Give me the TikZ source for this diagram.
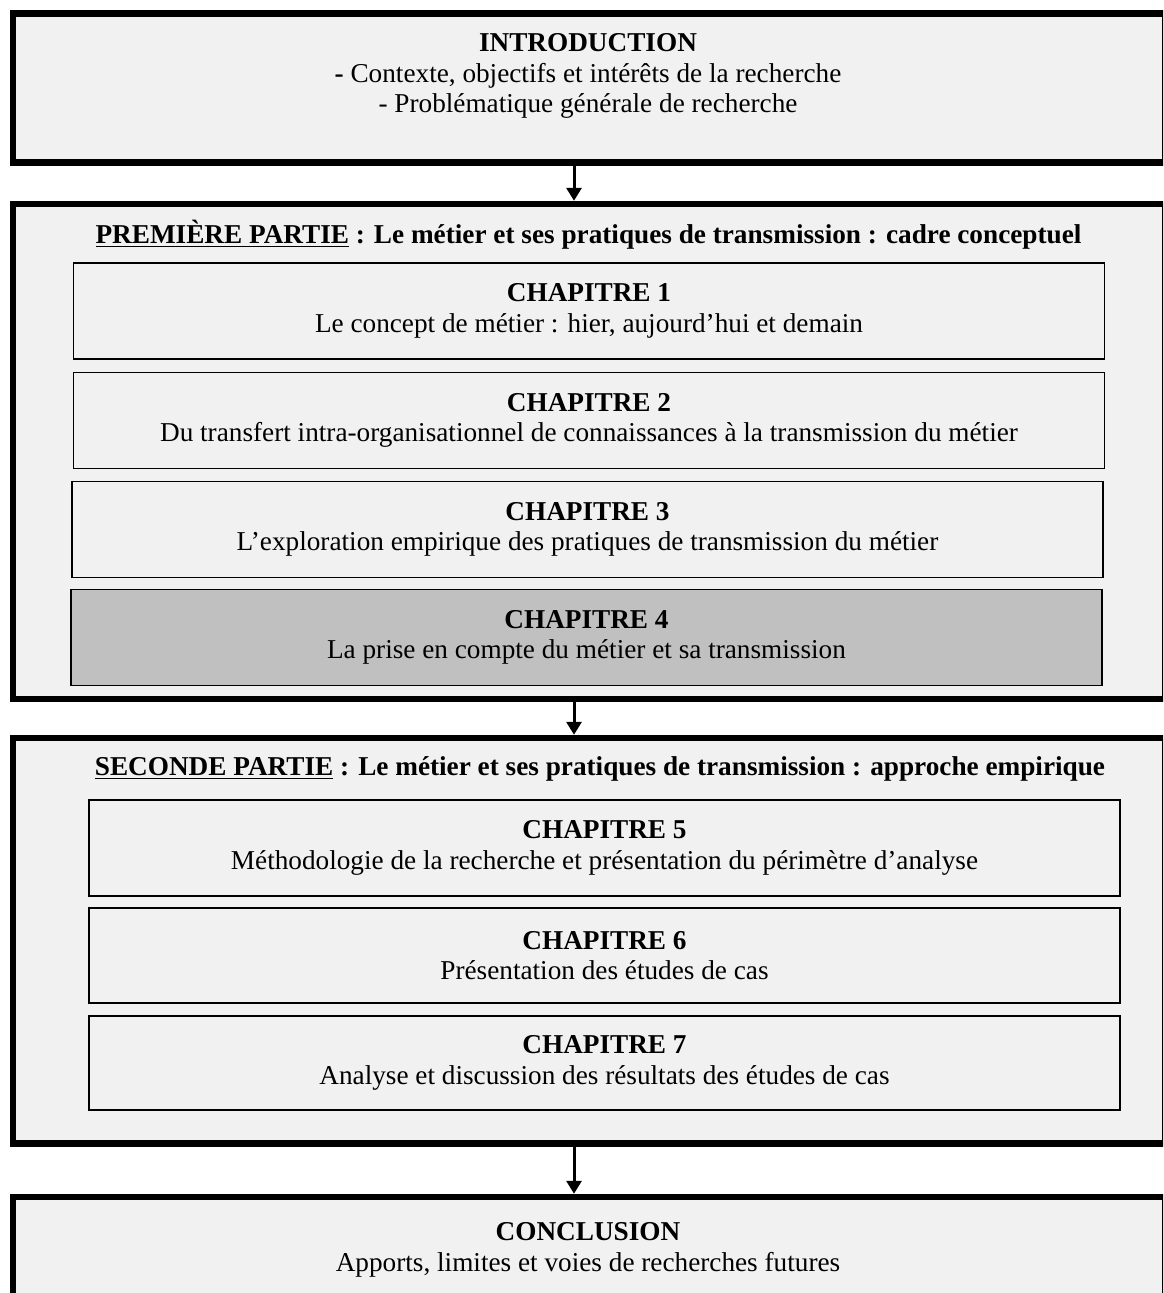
\documentclass[tikz,border=0pt]{standalone}
\usepackage{fontspec}
\setmainfont{Liberation Serif}
\usetikzlibrary{arrows.meta}
\definecolor{fondclair}{RGB}{241,241,241}
\definecolor{fondfonce}{RGB}{192,192,192}
\begin{document}
\begin{tikzpicture}[x=0.02cm, y=-0.02cm]
    % Styles des blocs
    \tikzstyle{partie}=[rectangle, draw=black, fill=fondclair, line width=0.13cm, minimum width=23.04cm]
    \tikzstyle{chapitre}=[rectangle, draw=black, fill=fondclair, line width=0.03cm, minimum width=20.62cm, minimum height=1.92cm, align=center, font=\fontsize{15.5}{17.4}\selectfont]
    \tikzstyle{texte}=[align=center, font=\fontsize{15.5}{17.6}\selectfont]
    \tikzstyle{fleche}=[-{Triangle[width=0.3cm,length=0.26cm]}, line width=0.06cm]
    \useasboundingbox (0,0) rectangle (1163,1293);
    \clip (0,0) rectangle (1163,1293);
    \fill[white] (0,0) rectangle (1163,1293);

    % Introduction
    \node[partie, minimum height=2.98cm] (intro) at (589,88) {};
    \node[texte] (txtintro) at (588,76) {\textbf{INTRODUCTION}\\\textbf{-} Contexte, objectifs et intérêts de la recherche\\- Problématique générale de recherche};

    % Premiere partie
    \node[partie, minimum height=9.9cm] (partie1) at (589,451.5) {};
    \node[texte] (titre1) at (588.5,235) {\textbf{\underline{PREMIÈRE PARTIE} : Le métier et ses pratiques de transmission : cadre conceptuel}};
    \node[chapitre] (chap1) at (589,311) {\textbf{CHAPITRE 1}\\Le concept de métier : hier, aujourd’hui et demain};
    \node[chapitre] (chap2) at (589,420.5) {\textbf{CHAPITRE 2}\\Du transfert intra-organisationnel de connaissances à la transmission du métier};
    \node[chapitre] (chap3) at (587.5,529.5) {\textbf{CHAPITRE 3}\\L’exploration empirique des pratiques de transmission du métier};
    \node[chapitre, fill=fondfonce] (chap4) at (586.5,637.5) {\textbf{CHAPITRE 4}\\La prise en compte du métier et sa transmission};

    % Seconde partie
    \node[partie, minimum height=8.11cm] (partie2) at (589,940.75) {};
    \node[texte] (titre2) at (600,769) {\textbf{\underline{SECONDE PARTIE} : Le métier et ses pratiques de transmission : approche empirique}};
    \node[chapitre] (chap5) at (604.5,848) {\textbf{CHAPITRE 5}\\Méthodologie de la recherche et présentation du périmètre d’analyse};
    \node[chapitre, minimum height=1.9cm] (chap6) at (604.5,955.5) {\textbf{CHAPITRE 6}\\Présentation des études de cas};
    \node[chapitre, minimum height=1.88cm] (chap7) at (604.5,1063) {\textbf{CHAPITRE 7}\\Analyse et discussion des résultats des études de cas};

    % Conclusion
    \node[partie, minimum height=2.86cm] (conclusion) at (589,1268.5) {};
    \node[texte] (txtconclusion) at (588,1250) {\textbf{CONCLUSION}\\Apports, limites et voies de recherches futures};

    % Fleches
    \draw[fleche] ([xshift=-0.3cm]intro.south) -- ([xshift=-0.3cm]partie1.north);
    \draw[fleche] ([xshift=-0.3cm]partie1.south) -- ([xshift=-0.3cm]partie2.north);
    \draw[fleche] ([xshift=-0.3cm]partie2.south) -- ([xshift=-0.3cm]conclusion.north);
\end{tikzpicture}
\end{document}
